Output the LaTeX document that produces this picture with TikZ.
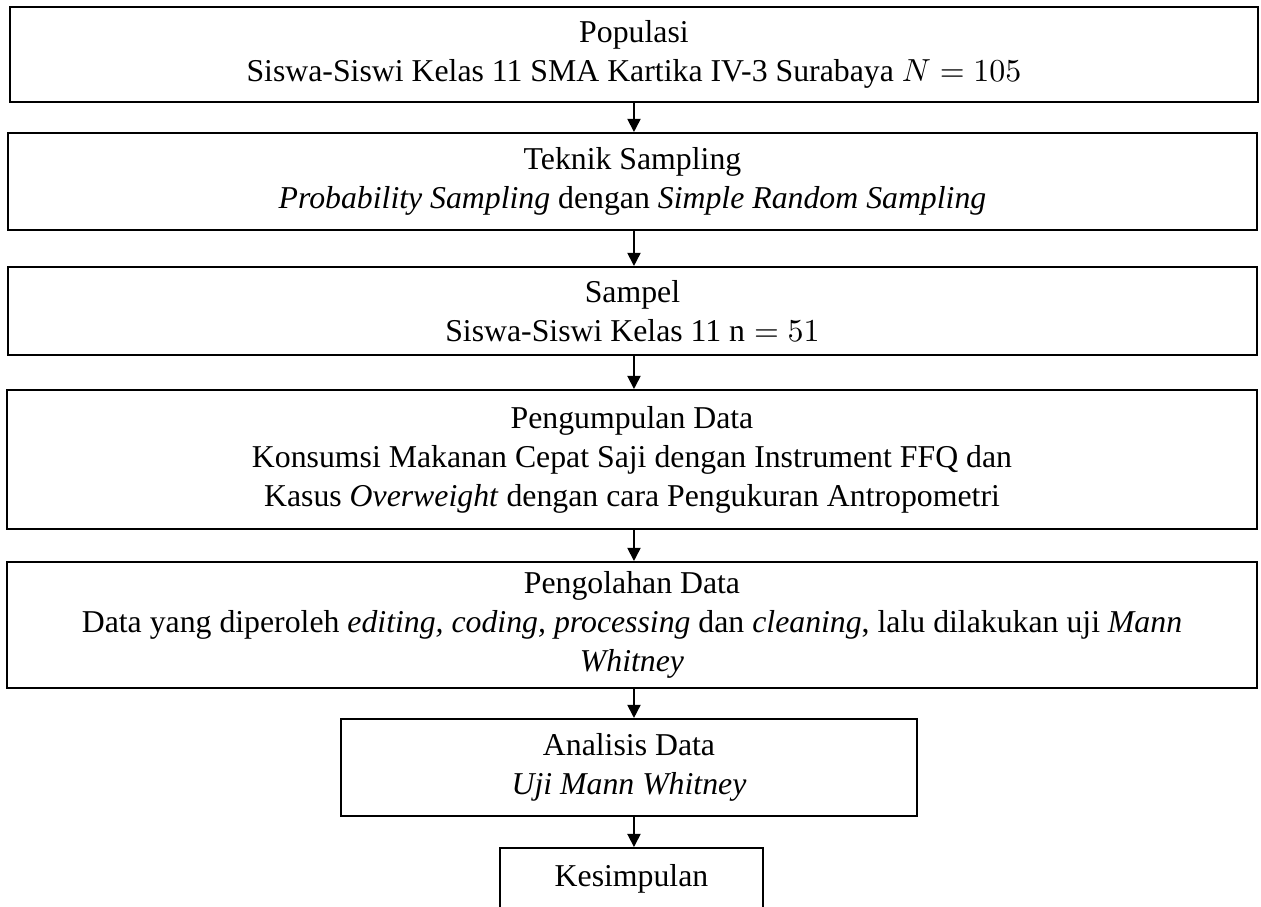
\documentclass[tikz,border=0pt]{standalone}
\usepackage{fontspec}
\setmainfont{Liberation Serif}
\usepackage{tikz}
\usetikzlibrary{arrows.meta}
\tikzset{>={Triangle[length=4.5pt,width=4.5pt]}}
\tikzset{box/.style={draw, line width=0.7pt, inner sep=0pt, align=center,
    font=\fontsize{10.9}{13.4}\selectfont}}

\begin{document}
\begin{tikzpicture}
    \useasboundingbox (0,0) rectangle (15.2,-10.933);
    \node[box, minimum width=15.043cm, minimum height=1.145cm] (A) at (7.642,-0.657)
        {Populasi\\Siswa-Siswi Kelas 11 SMA Kartika IV-3 Surabaya $N = 105$};
    \node[box, minimum width=15.055cm, minimum height=1.169cm] (B) at (7.624,-2.188)
        {Teknik Sampling\\\textit{Probability Sampling} dengan \textit{Simple Random Sampling}};
    \node[box, minimum width=15.055cm, minimum height=1.061cm] (C) at (7.624,-3.749)
        {Sampel\\Siswa-Siswi Kelas 11 $\mathrm{n} = 51$};
    \node[box, minimum width=15.068cm, minimum height=1.675cm] (D) at (7.618,-5.539)
        {Pengumpulan Data\\Konsumsi Makanan Cepat Saji dengan Instrument FFQ dan\\Kasus \textit{Overweight} dengan cara Pengukuran Antropometri};
    \node[box, minimum width=15.068cm, minimum height=1.519cm] (E) at (7.618,-7.534)
        {Pengolahan Data\\Data yang diperoleh \textit{editing, coding, processing} dan \textit{cleaning}, lalu dilakukan uji \textit{Mann}\\\textit{Whitney}};
    \node[box, minimum width=6.943cm, minimum height=1.169cm] (F) at (7.582,-9.251)
        {Analisis Data\\\textit{Uji Mann Whitney}};
    \node[box, minimum width=3.170cm, minimum height=0.747cm] (G) at (7.612,-10.596)
        {Kesimpulan};

    \draw[->, line width=0.6pt](A.south)--(A.south |- B.north);
    \draw[->, line width=0.6pt](A.south |- B.south)--(A.south |- C.north);
    \draw[->, line width=0.6pt](A.south |- C.south)--(A.south |- D.north);
    \draw[->, line width=0.6pt](A.south |- D.south)--(A.south |- E.north);
    \draw[->, line width=0.6pt](A.south |- E.south)--(A.south |- F.north);
    \draw[->, line width=0.6pt](A.south |- F.south)--(A.south |- G.north);
\end{tikzpicture}
\end{document}
